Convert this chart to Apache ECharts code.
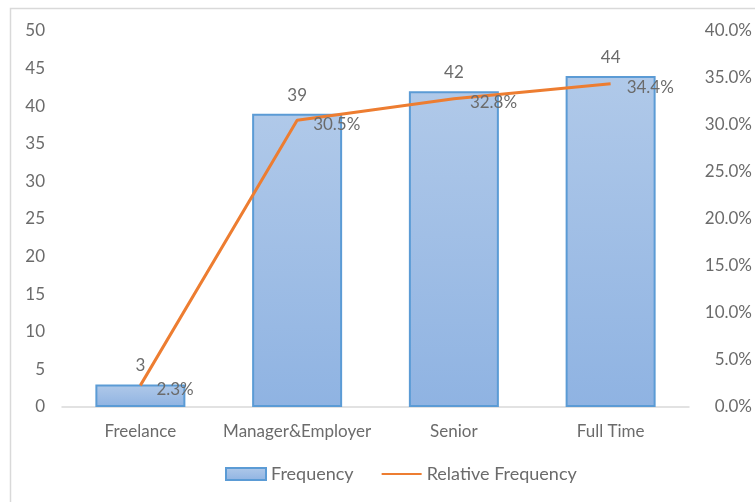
<!DOCTYPE html>
<html>
<head>
<meta charset="utf-8">
<script src="https://cdn.jsdelivr.net/npm/echarts@6/dist/echarts.min.js"></script>
<style>
html,body{margin:0;padding:0;background:#fff;}
#chart{width:755px;height:502px;}
</style>
</head>
<body>
<div id="chart"></div>
<script>
// Job categories and their counts
const categories = ['Freelance', 'Manager&Employer', 'Senior', 'Full Time'];
const frequency = [3, 39, 42, 44];
// Share of the total, in percent
const relativeFrequency = [2.3, 30.5, 32.8, 34.4];

const textColor = '#6b6b6b';
const fontFamily = 'Lato, Open Sans, sans-serif';

const chart = echarts.init(document.getElementById('chart'));
chart.setOption({
  animation: false,
  textStyle: { fontFamily: fontFamily, color: textColor },
  graphic: [{
    type: 'rect',
    shape: { x: 10.5, y: 8.5, width: 800, height: 600 },
    style: { fill: 'none', stroke: '#d9d9d9', lineWidth: 1.5 },
    silent: true,
    z: -1
  }],
  grid: { left: 62, right: 66, top: 31, bottom: 95 },
  legend: {
    bottom: 14,
    left: 220,
    itemGap: 27,
    itemWidth: 40,
    itemHeight: 12,
    textStyle: { fontSize: 18, color: textColor, fontFamily: fontFamily },
    data: [
      { name: 'Frequency', icon: 'rect' },
      { name: 'Relative Frequency', itemStyle: { opacity: 0 } }
    ]
  },
  xAxis: {
    type: 'category',
    data: categories,
    axisTick: { show: false },
    axisLine: { lineStyle: { color: '#d9d9d9', width: 1.5 } },
    axisLabel: { color: textColor, fontSize: 17, margin: 16, interval: 0 }
  },
  yAxis: [
    {
      type: 'value', min: 0, max: 50, interval: 5,
      splitLine: { show: false },
      axisLine: { show: false }, axisTick: { show: false },
      axisLabel: { color: textColor, fontSize: 17, margin: 17 }
    },
    {
      type: 'value', min: 0, max: 40, interval: 5,
      splitLine: { show: false },
      axisLine: { show: false }, axisTick: { show: false },
      axisLabel: {
        color: textColor, fontSize: 17, margin: 63, align: 'right',
        formatter: v => v.toFixed(1) + '%'
      }
    }
  ],
  series: [
    {
      name: 'Frequency',
      type: 'bar',
      data: frequency,
      barWidth: 90,
      itemStyle: {
        color: new echarts.graphic.LinearGradient(0, 0, 0, 1, [
          { offset: 0, color: '#b0c9e9' },
          { offset: 1, color: '#8fb3e2' }
        ]),
        borderColor: '#5b9bd5',
        borderWidth: 2
      },
      label: { show: true, position: 'top', distance: 10, fontSize: 17, color: textColor }
    },
    {
      name: 'Relative Frequency',
      type: 'line',
      yAxisIndex: 1,
      data: relativeFrequency,
      symbol: 'circle',
      symbolSize: 0,
      showSymbol: true,
      lineStyle: { color: '#ed7d31', width: 3 },
      itemStyle: { color: '#ed7d31' },
      label: {
        show: true, position: 'right', distance: 16, offset: [0, 4],
        fontSize: 17, color: textColor,
        formatter: p => p.value.toFixed(1) + '%'
      },
      z: 3
    }
  ]
});
</script>
</body>
</html>
